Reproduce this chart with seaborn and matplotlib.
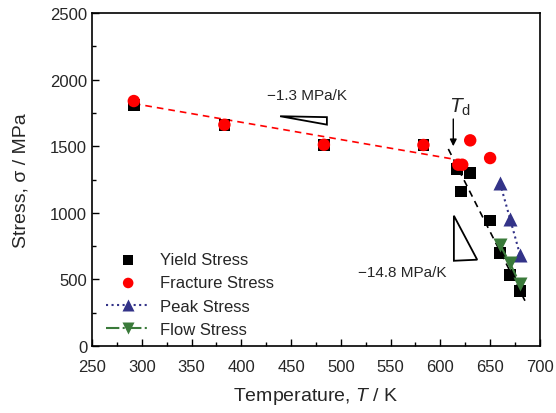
import numpy as np
import pandas as pd
import matplotlib
matplotlib.use('Agg')
import matplotlib.pyplot as plt
import seaborn as sns

# data
yield_T = [292, 383, 483, 583, 617, 621, 630, 650, 660, 670, 680]
yield_s = [1809, 1661, 1511, 1511, 1329, 1159, 1301, 941, 696, 533, 413]
fract_T = [292, 383, 483, 583, 618, 622, 630, 650]
fract_s = [1839, 1661, 1511, 1509, 1361, 1361, 1544, 1411]
peak_T = [660, 670, 680]
peak_s = [1221, 956, 686]
flow_T = [660, 670, 680]
flow_s = [758, 621, 465]

# linear fits (end points)
fit_low_T = [292, 617]
fit_low_s = [1820, 1398]
fit_high_T = [608, 685]
fit_high_s = [1479, 340]

RED = '#ff0000'
NAVY = '#333388'
GREEN = '#3a7a3a'

sns.set_theme(style='ticks')
plt.rcParams['font.family'] = ['Liberation Sans', 'DejaVu Sans']
plt.rcParams['mathtext.fontset'] = 'custom'
plt.rcParams['mathtext.it'] = 'Liberation Sans:italic'
plt.rcParams['mathtext.rm'] = 'Liberation Sans'

fig = plt.figure(figsize=(5.56, 4.14), dpi=100)
ax = fig.add_axes([0.1655, 0.1618, 0.8055, 0.8044])

ax.plot(fit_low_T, fit_low_s, ls=(0, (4, 3)), color=RED, lw=1.2, zorder=1)
ax.plot(fit_high_T, fit_high_s, ls=(0, (4, 3)), color='black', lw=1.2, zorder=1)

sns.scatterplot(x=yield_T, y=yield_s, marker='s', color='black', s=70,
                edgecolor='none', label='Yield Stress', ax=ax, zorder=3)
sns.scatterplot(x=fract_T, y=fract_s, marker='o', color=RED, s=80,
                edgecolor='none', label='Fracture Stress', ax=ax, zorder=3)
sns.lineplot(x=peak_T, y=peak_s, marker='^', color=NAVY, ls=':', lw=1.5,
             markersize=10, markeredgecolor='none', label='Peak Stress', ax=ax, zorder=3)
sns.lineplot(x=flow_T, y=flow_s, marker='v', color=GREEN, ls='-.', lw=1.5,
             markersize=10, markeredgecolor='none', label='Flow Stress', ax=ax, zorder=3)

# slope triangles
ax.add_patch(plt.Polygon([[439, 1725], [486, 1718], [486, 1662]], closed=True,
                         fill=False, ec='black', lw=1.3))
ax.add_patch(plt.Polygon([[613.6, 978], [613.6, 640], [637, 648]], closed=True,
                         fill=False, ec='black', lw=1.3))
ax.text(466, 1884, '\u22121.3 MPa/K', ha='center', va='center', fontsize=11)
ax.text(562, 552, '\u221214.8 MPa/K', ha='center', va='center', fontsize=11)
ax.text(609, 1800, '$T_{\\rm d}$', ha='left', va='center', fontsize=15)
ax.annotate('', xy=(613, 1479), xytext=(613, 1725),
            arrowprops=dict(arrowstyle='-|>', color='black', lw=1.0, mutation_scale=10))

ax.set_xlim(250, 700)
ax.set_ylim(0, 2500)
ax.set_xticks(np.arange(250, 701, 50))
ax.set_yticks(np.arange(0, 2501, 500))
ax.set_xticks(np.arange(275, 700, 50), minor=True)
ax.set_yticks(np.arange(250, 2500, 500), minor=True)
ax.tick_params(which='major', direction='in', length=5, width=1, labelsize=12, color='black')
ax.tick_params(which='minor', direction='in', length=3, width=1, color='black')
ax.tick_params(axis='x', which='major', pad=9)
for sp in ax.spines.values():
    sp.set_visible(True)
    sp.set_linewidth(1.2)
    sp.set_color('black')

ax.set_xlabel('Temperature, $T$ / K', fontsize=14, labelpad=8)
ax.set_ylabel('Stress, \u03c3 / MPa', fontsize=14, labelpad=15)

leg = ax.legend(loc='lower left', bbox_to_anchor=(0.01, -0.003), frameon=False,
                fontsize=12, handlelength=2.6, labelspacing=0.5, handletextpad=0.6,
                borderaxespad=0.2, markerscale=0.85)

fig.savefig('out.png', dpi=100)
